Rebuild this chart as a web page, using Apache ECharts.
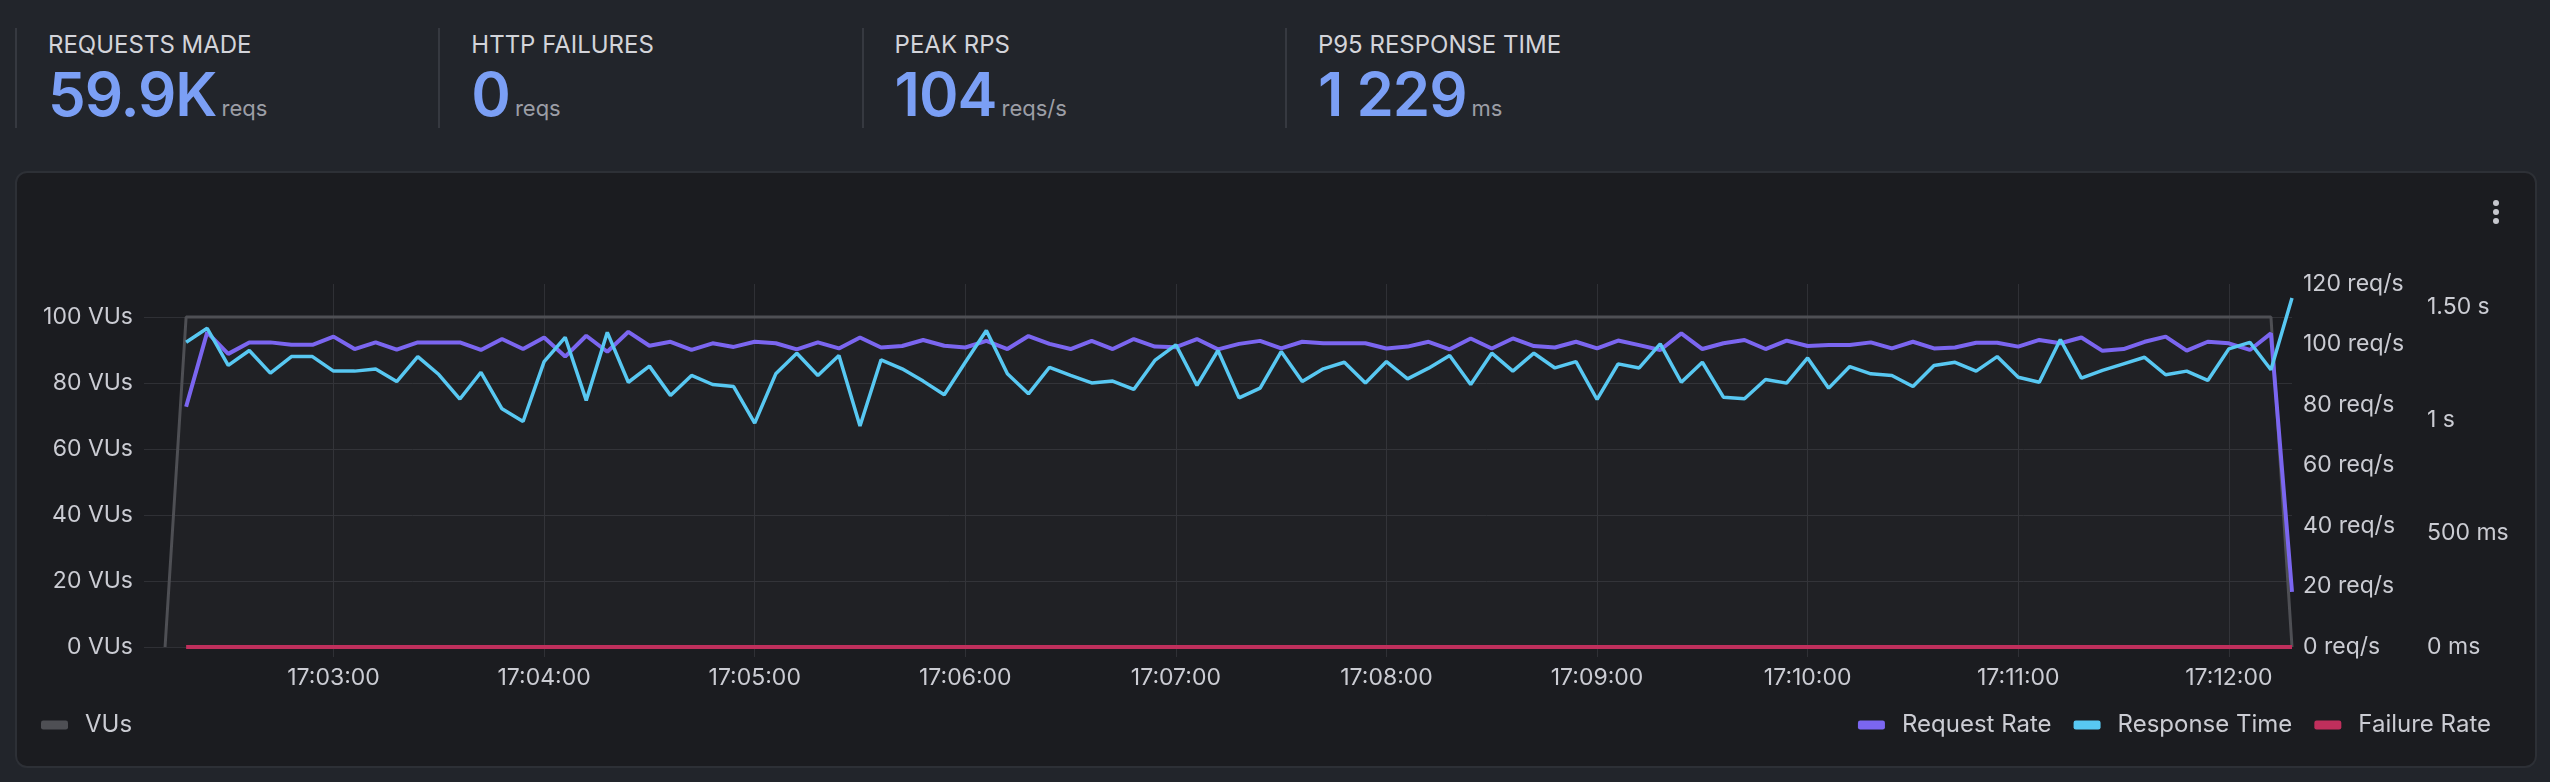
<!DOCTYPE html>
<html>
<head>
<meta charset="utf-8">
<title>Load test</title>
<script src="https://cdn.jsdelivr.net/npm/echarts@6/dist/echarts.min.js"></script>
<style>
    html, body {
        margin: 0;
        padding: 0;
        width: 2550px;
        height: 782px;
        overflow: hidden;
        background: #22252b;
        font-family: Inter, "Noto Sans", sans-serif;
    }
    .stat {
        position: absolute;
        top: 28px;
        height: 100px;
        box-sizing: border-box;
        border-left: 2px solid #363940;
        padding-left: 31px;
    }
    .stat .title {
        margin-top: 3px;
        font-size: 24px;
        line-height: 28px;
        color: #d3d4da;
    }
    .stat .val {
        margin-top: 5px;
        line-height: 60px;
        white-space: nowrap;
    }
    .stat .num {
        font-size: 60px;
        font-weight: 600;
        color: #7b9ff5;
        letter-spacing: -1px;
    }
    .stat .unit {
        font-size: 22px;
        color: #9c9ea6;
        margin-left: 5px;
    }
    .panel {
        position: absolute;
        left: 15px;
        top: 171px;
        width: 2522px;
        height: 597px;
        box-sizing: border-box;
        background: #1b1c20;
        border: 2px solid #2d3036;
        border-radius: 12px;
    }
    #chart {
        position: absolute;
        left: 0;
        top: 0;
        width: 2550px;
        height: 782px;
    }
</style>
</head>
<body>
<div id="stats"></div>
<div class="panel"></div>
<div id="chart"></div>

<script>
    // header stats
    const statTitles = ['REQUESTS MADE', 'HTTP FAILURES', 'PEAK RPS', 'P95 RESPONSE TIME']
    const statValues = ['59.9K', '0', '104', '1 229']
    const statUnits = ['reqs', 'reqs', 'reqs/s', 'ms']

    // time base (one sample every 6 s)
    const axisStart = '17:02:06'
    const axisEnd = '17:12:18'
    const vuStart = '17:02:12'
    const rateStart = '17:02:18'
    const stepSec = 6

    const timeTicks = ['17:03:00', '17:04:00', '17:05:00', '17:06:00', '17:07:00',
        '17:08:00', '17:09:00', '17:10:00', '17:11:00', '17:12:00']
    const vuTicks = [0, 20, 40, 60, 80, 100]
    const rpsTicks = [0, 20, 40, 60, 80, 100, 120]
    const rtTicks = [0, 500, 1000, 1500]
    const rtTickLabels = ['0 ms', '500 ms', '1 s', '1.50 s']

    const vus = [
        0,
        100, 100, 100, 100, 100, 100, 100, 100, 100, 100, 100, 100, 100, 100, 100, 100, 100, 100, 100, 100,
        100, 100, 100, 100, 100, 100, 100, 100, 100, 100, 100, 100, 100, 100, 100, 100, 100, 100, 100, 100,
        100, 100, 100, 100, 100, 100, 100, 100, 100, 100, 100, 100, 100, 100, 100, 100, 100, 100, 100, 100,
        100, 100, 100, 100, 100, 100, 100, 100, 100, 100, 100, 100, 100, 100, 100, 100, 100, 100, 100, 100,
        100, 100, 100, 100, 100, 100, 100, 100, 100, 100, 100, 100, 100, 100, 100, 100, 100, 100, 100, 100,
        0
    ]
    // req/s
    const requestRate = [
        79.4, 104.0, 96.9, 100.7, 100.7, 99.9, 99.9, 102.6, 98.5, 100.7,
        98.3, 100.7, 100.7, 100.7, 98.2, 101.8, 98.5, 102.3, 96.0, 102.9,
        97.6, 104.2, 99.6, 100.9, 98.2, 100.4, 99.2, 100.9, 100.4, 98.4,
        100.7, 98.7, 102.3, 99.0, 99.5, 101.5, 99.6, 99.0, 101.2, 98.5,
        102.8, 100.2, 98.5, 101.2, 98.5, 101.8, 99.3, 99.1, 101.8, 98.4,
        100.2, 101.2, 98.7, 100.9, 100.4, 100.4, 100.4, 98.7, 99.3, 100.9,
        98.4, 102.0, 98.7, 102.0, 99.5, 99.0, 100.9, 98.7, 101.3, 99.8,
        98.2, 103.7, 98.5, 100.4, 101.5, 98.5, 101.3, 99.5, 99.8, 99.8,
        100.7, 98.7, 100.9, 98.7, 99.0, 100.6, 100.6, 99.3, 101.5, 100.4,
        102.3, 97.9, 98.5, 100.9, 102.6, 98.0, 100.9, 100.4, 98.2, 103.7,
        18.2
    ]
    // ms
    const responseTime = [
        1343, 1405, 1241, 1307, 1207, 1280, 1280, 1216, 1216, 1225,
        1170, 1280, 1201, 1093, 1211, 1050, 994, 1258, 1365, 1087,
        1387, 1167, 1238, 1109, 1197, 1157, 1148, 987, 1204, 1295,
        1197, 1285, 974, 1266, 1226, 1172, 1112, 1255, 1395, 1204,
        1116, 1233, 1197, 1164, 1172, 1135, 1263, 1332, 1153, 1307,
        1098, 1141, 1302, 1170, 1226, 1255, 1164, 1258, 1182, 1229,
        1285, 1157, 1295, 1216, 1295, 1230, 1258, 1091, 1248, 1230,
        1336, 1167, 1255, 1101, 1094, 1179, 1163, 1274, 1141, 1236,
        1204, 1197, 1148, 1241, 1255, 1216, 1280, 1189, 1167, 1355,
        1185, 1219, 1248, 1277, 1200, 1216, 1175, 1314, 1343, 1222,
        1538
    ]
    // req/s
    const failureRate = [
        0, 0, 0, 0, 0, 0, 0, 0, 0, 0, 0, 0, 0, 0, 0, 0, 0, 0, 0, 0,
        0, 0, 0, 0, 0, 0, 0, 0, 0, 0, 0, 0, 0, 0, 0, 0, 0, 0, 0, 0,
        0, 0, 0, 0, 0, 0, 0, 0, 0, 0, 0, 0, 0, 0, 0, 0, 0, 0, 0, 0,
        0, 0, 0, 0, 0, 0, 0, 0, 0, 0, 0, 0, 0, 0, 0, 0, 0, 0, 0, 0,
        0, 0, 0, 0, 0, 0, 0, 0, 0, 0, 0, 0, 0, 0, 0, 0, 0, 0, 0, 0,
        0
    ]

    const labelColor = '#cbccd3'
    const gridColor = '#2f3035'
    const fontFamily = 'Inter, "Noto Sans", sans-serif'

    let statsHtml = ''
    statTitles.forEach((t, i) => {
        statsHtml += '<div class="stat" style="left:' + (15 + 423.3 * i) + 'px">' +
            '<div class="title">' + t + '</div>' +
            '<div class="val"><span class="num">' + statValues[i] + '</span>' +
            '<span class="unit">' + statUnits[i] + '</span></div></div>'
    })
    document.getElementById('stats').innerHTML = statsHtml

    // "HH:MM:SS" -> seconds of the day
    function sec(hms) {
        let p = hms.split(':').map(Number)
        return p[0] * 3600 + p[1] * 60 + p[2]
    }

    function pad(n) {
        return (n < 10 ? '0' : '') + n
    }

    function hms(s) {
        return pad(Math.floor(s / 3600)) + ':' + pad(Math.floor(s / 60) % 60) + ':' + pad(s % 60)
    }

    function series(start, values) {
        let t0 = sec(start)
        return values.map((v, i) => [t0 + i * stepSec, v])
    }

    let tickSecs = timeTicks.map(sec)

    let legendText = {color: labelColor, fontSize: 24, fontFamily: fontFamily, padding: [0, 0, 0, 12]}

    let myChart = echarts.init(document.getElementById('chart'))
    myChart.setOption({
        animation: false,
        textStyle: {fontFamily: fontFamily},
        grid: {
            left: 144,
            top: 284,
            width: 2148,
            height: 363,
            outerBoundsMode: 'none'
        },
        legend: [
            {
                data: ['VUs'],
                left: 41,
                top: 713,
                padding: 0,
                icon: 'roundRect',
                itemWidth: 27,
                itemHeight: 9,
                itemTextGap: 5,
                selectedMode: false,
                textStyle: legendText
            },
            {
                data: ['Request Rate', 'Response Time', 'Failure Rate'],
                right: 59,
                top: 713,
                padding: 0,
                icon: 'roundRect',
                itemWidth: 27,
                itemHeight: 9,
                itemGap: 22,
                itemTextGap: 5,
                selectedMode: false,
                textStyle: legendText
            }
        ],
        xAxis: {
            type: 'value',
            min: sec(axisStart),
            max: sec(axisEnd),
            axisLine: {show: false},
            axisTick: {
                show: true,
                length: 10,
                customValues: tickSecs,
                lineStyle: {color: gridColor}
            },
            axisLabel: {
                customValues: tickSecs,
                color: labelColor,
                fontSize: 23,
                margin: 20,
                formatter: v => hms(v)
            },
            splitLine: {show: true, lineStyle: {color: gridColor, width: 1}}
        },
        yAxis: [
            {
                type: 'value',
                position: 'left',
                min: 0,
                max: 110,
                axisLine: {show: false},
                axisTick: {show: false, customValues: vuTicks},
                axisLabel: {
                    customValues: vuTicks,
                    color: labelColor,
                    fontSize: 23,
                    margin: 11,
                    formatter: v => v + ' VUs'
                },
                splitLine: {show: true, lineStyle: {color: gridColor, width: 1}}
            },
            {
                type: 'value',
                position: 'right',
                min: 0,
                max: 120,
                axisLine: {show: false},
                axisTick: {show: false, customValues: rpsTicks},
                axisLabel: {
                    customValues: rpsTicks,
                    color: labelColor,
                    fontSize: 23,
                    margin: 11,
                    formatter: v => v + ' req/s'
                },
                splitLine: {show: false}
            },
            {
                type: 'value',
                position: 'right',
                offset: 124,
                min: 0,
                max: 1600,
                axisLine: {show: false},
                axisTick: {show: false, customValues: rtTicks},
                axisLabel: {
                    customValues: rtTicks,
                    color: labelColor,
                    fontSize: 23,
                    margin: 11,
                    formatter: v => rtTickLabels[rtTicks.indexOf(v)]
                },
                splitLine: {show: false}
            }
        ],
        graphic: [
            {type: 'circle', shape: {cx: 2496, cy: 203, r: 3}, style: {fill: '#c6c7cd'}},
            {type: 'circle', shape: {cx: 2496, cy: 212, r: 3}, style: {fill: '#c6c7cd'}},
            {type: 'circle', shape: {cx: 2496, cy: 221, r: 3}, style: {fill: '#c6c7cd'}}
        ],
        series: [
            {
                name: 'VUs',
                type: 'line',
                yAxisIndex: 0,
                data: series(vuStart, vus),
                symbol: 'none',
                itemStyle: {color: '#4e4f54'},
                lineStyle: {color: '#4e4f54', width: 3},
                areaStyle: {color: 'rgba(255,255,255,0.035)'},
                z: 1
            },
            {
                name: 'Request Rate',
                type: 'line',
                yAxisIndex: 1,
                data: series(rateStart, requestRate),
                symbol: 'none',
                itemStyle: {color: '#7b66f0'},
                lineStyle: {color: '#7b66f0', width: 4},
                z: 2
            },
            {
                name: 'Response Time',
                type: 'line',
                yAxisIndex: 2,
                data: series(rateStart, responseTime),
                symbol: 'none',
                itemStyle: {color: '#58c8f2'},
                lineStyle: {color: '#58c8f2', width: 3.5},
                z: 3
            },
            {
                name: 'Failure Rate',
                type: 'line',
                yAxisIndex: 1,
                data: series(rateStart, failureRate),
                symbol: 'none',
                itemStyle: {color: '#bf2f5c'},
                lineStyle: {color: '#bf2f5c', width: 4},
                z: 4
            }
        ]
    })
</script>
</body>
</html>
